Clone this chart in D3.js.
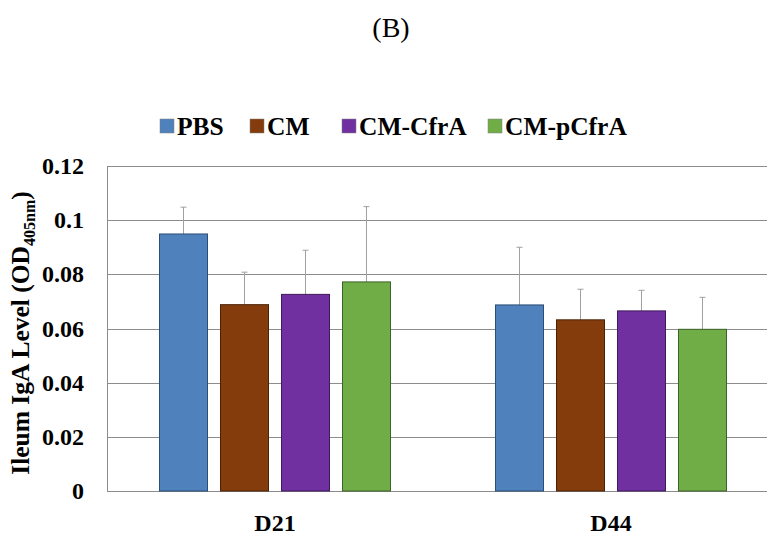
<!DOCTYPE html>
<html>
<head>
<meta charset="utf-8">
<script src="https://cdn.jsdelivr.net/npm/d3@7"></script>
<style>
  body { margin: 0; background: #fff; overflow: hidden; }
  svg { display: block; font-family: "Liberation Serif", "Times New Roman", Times, serif; }
</style>
</head>
<body>
<svg></svg>
<script>
let width = 767
let height = 536

let groups = ['D21', 'D44']
let series = ['PBS', 'CM', 'CM-CfrA', 'CM-pCfrA']
let colors = ['#4f81bd', '#843c0c', '#7030a0', '#70ad47']
let strokes = ['#2c4d75', '#4a2307', '#3f1b5b', '#3e6328']
let values = {
    'D21': [0.0949, 0.0688, 0.0726, 0.0772],
    'D44': [0.0687, 0.0632, 0.0665, 0.0597]
}
let errors = {
    'D21': [0.0099, 0.0120, 0.0163, 0.0278],
    'D44': [0.0213, 0.0113, 0.0076, 0.0118]
}
let yTicks = [0, 0.02, 0.04, 0.06, 0.08, 0.1, 0.12]

let svg = d3.select('svg')
    .attr('width', width)
    .attr('height', height)

let plotLeft = 107, plotRight = 779, plotTop = 166, plotBottom = 491

let y = d3.scaleLinear().domain([0, 0.12]).range([plotBottom, plotTop])
let x0 = d3.scaleBand().domain(groups).range([plotLeft, plotRight])
let x1 = d3.scaleBand().domain(series)
    .range([52.5, x0.bandwidth() - 52.5])
    .paddingInner(0.213)

// title
svg.append('text')
    .attr('x', 391).attr('y', 37)
    .attr('text-anchor', 'middle')
    .style('font-size', '28px')
    .text('(B)')

// gridlines
svg.append('g').selectAll('line')
    .data(yTicks).enter()
    .append('line')
    .attr('x1', plotLeft).attr('x2', plotRight)
    .attr('y1', d => Math.round(y(d)) + 0.5)
    .attr('y2', d => Math.round(y(d)) + 0.5)
    .attr('stroke', '#8c8c8c')
    .attr('stroke-width', 1)

svg.append('line')
    .attr('x1', plotLeft + 0.5).attr('x2', plotLeft + 0.5)
    .attr('y1', y(0.12)).attr('y2', y(0))
    .attr('stroke', '#8c8c8c')

// y tick labels
svg.append('g').selectAll('text')
    .data(yTicks).enter()
    .append('text')
    .attr('x', 84)
    .attr('y', d => y(d) + 8)
    .attr('text-anchor', 'end')
    .style('font-size', '24px')
    .style('font-weight', 'bold')
    .text(d => d === 0 ? '0' : String(+d.toFixed(2)))

// y axis title
let yt = svg.append('text')
    .attr('transform', 'translate(29,333) rotate(-90)')
    .attr('text-anchor', 'middle')
    .style('font-size', '25.5px')
    .style('font-weight', 'bold')
yt.append('tspan').text('Ileum IgA Level (OD')
yt.append('tspan').attr('dy', 6).style('font-size', '16px').text('405nm')
yt.append('tspan').attr('dy', -6).text(')')

// bars
let rows = groups.flatMap(g => series.map((s, i) => ({
    group: g, series: s, i: i, value: values[g][i], err: errors[g][i]
})))

let barGroup = svg.append('g')
barGroup.selectAll('line.err')
    .data(rows).enter()
    .append('line')
    .attr('class', 'err')
    .attr('x1', d => x0(d.group) + x1(d.series) + x1.bandwidth() / 2)
    .attr('x2', d => x0(d.group) + x1(d.series) + x1.bandwidth() / 2)
    .attr('y1', d => y(d.value))
    .attr('y2', d => y(d.value + d.err))
    .attr('stroke', '#a0a0a0')
    .attr('stroke-width', 1)
barGroup.selectAll('line.cap')
    .data(rows).enter()
    .append('line')
    .attr('class', 'cap')
    .attr('x1', d => x0(d.group) + x1(d.series) + x1.bandwidth() / 2 - 3)
    .attr('x2', d => x0(d.group) + x1(d.series) + x1.bandwidth() / 2 + 3)
    .attr('y1', d => y(d.value + d.err))
    .attr('y2', d => y(d.value + d.err))
    .attr('stroke', '#a0a0a0')
    .attr('stroke-width', 1)
barGroup.selectAll('rect')
    .data(rows).enter()
    .append('rect')
    .attr('x', d => x0(d.group) + x1(d.series))
    .attr('width', x1.bandwidth())
    .attr('y', d => y(d.value))
    .attr('height', d => y(0) - y(d.value))
    .attr('fill', d => colors[d.i])
    .attr('stroke', d => strokes[d.i])
    .attr('stroke-width', 1)

// x labels
svg.append('g').selectAll('text')
    .data(groups).enter()
    .append('text')
    .attr('x', d => x0(d) + x0.bandwidth() / 2)
    .attr('y', 531)
    .attr('text-anchor', 'middle')
    .style('font-size', '24px')
    .style('font-weight', 'bold')
    .text(d => d)

// legend
let legendX = [160, 250, 342, 488]
let legend = svg.append('g').selectAll('g')
    .data(series).enter()
    .append('g')
    .attr('transform', (d, i) => `translate(${legendX[i]},119)`)
legend.append('rect')
    .attr('width', 14).attr('height', 14)
    .attr('fill', (d, i) => colors[i])
    .attr('stroke', '#808080')
    .attr('stroke-width', 0.5)
legend.append('text')
    .attr('x', 17).attr('y', 16)
    .style('font-size', '25.5px')
    .style('font-weight', 'bold')
    .text(d => d)
</script>
</body>
</html>
